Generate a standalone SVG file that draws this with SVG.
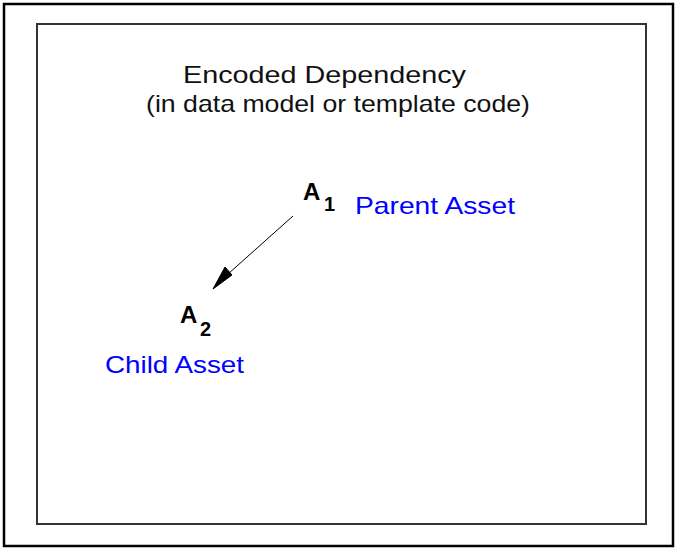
<svg xmlns="http://www.w3.org/2000/svg" width="675" height="548" viewBox="0 0 675 548">
  <style>
    .frame { fill: none; }
    .t { font-family: "Liberation Sans", Arial, sans-serif; font-size: 24px; fill: #111; }
    .sym { font-family: "Liberation Sans", Arial, sans-serif; font-weight: bold; fill: #000; }
    .lbl { font-family: "Liberation Sans", Arial, sans-serif; font-size: 24px; fill: #0000ff; }
    .conn { stroke: #000; stroke-width: 1; fill: none; }
    .head { fill: #000; stroke: #000; stroke-width: 1; stroke-linejoin: round; }
  </style>
  <rect width="675" height="548" fill="#fff"/>
  <rect class="frame" x="4" y="4" width="669" height="542" stroke="#000" stroke-width="2.5"/>
  <rect class="frame" x="37" y="24" width="609" height="500" stroke="#333" stroke-width="2"/>
  <g id="title">
    <text class="t" x="183" y="83" textLength="283" lengthAdjust="spacingAndGlyphs">Encoded Dependency</text>
    <text class="t" x="146" y="112" textLength="384" lengthAdjust="spacingAndGlyphs">(in data model or template code)</text>
  </g>
  <g id="a1">
    <text class="sym" x="303" y="200" font-size="24">A</text>
    <text class="sym" x="324" y="211" font-size="20">1</text>
    <text class="lbl" x="355" y="214" textLength="160" lengthAdjust="spacingAndGlyphs">Parent Asset</text>
  </g>
  <g id="a2">
    <text class="sym" x="180" y="323" font-size="24">A</text>
    <text class="sym" x="200" y="336" font-size="20">2</text>
    <text class="lbl" x="105" y="373" textLength="139" lengthAdjust="spacingAndGlyphs">Child Asset</text>
  </g>
  <g id="connectors">
    <line class="conn" x1="293" y1="216" x2="228" y2="274"/>
    <path class="head" d="M213,289 L225,267 L232,275 Z"/>
  </g>
</svg>
